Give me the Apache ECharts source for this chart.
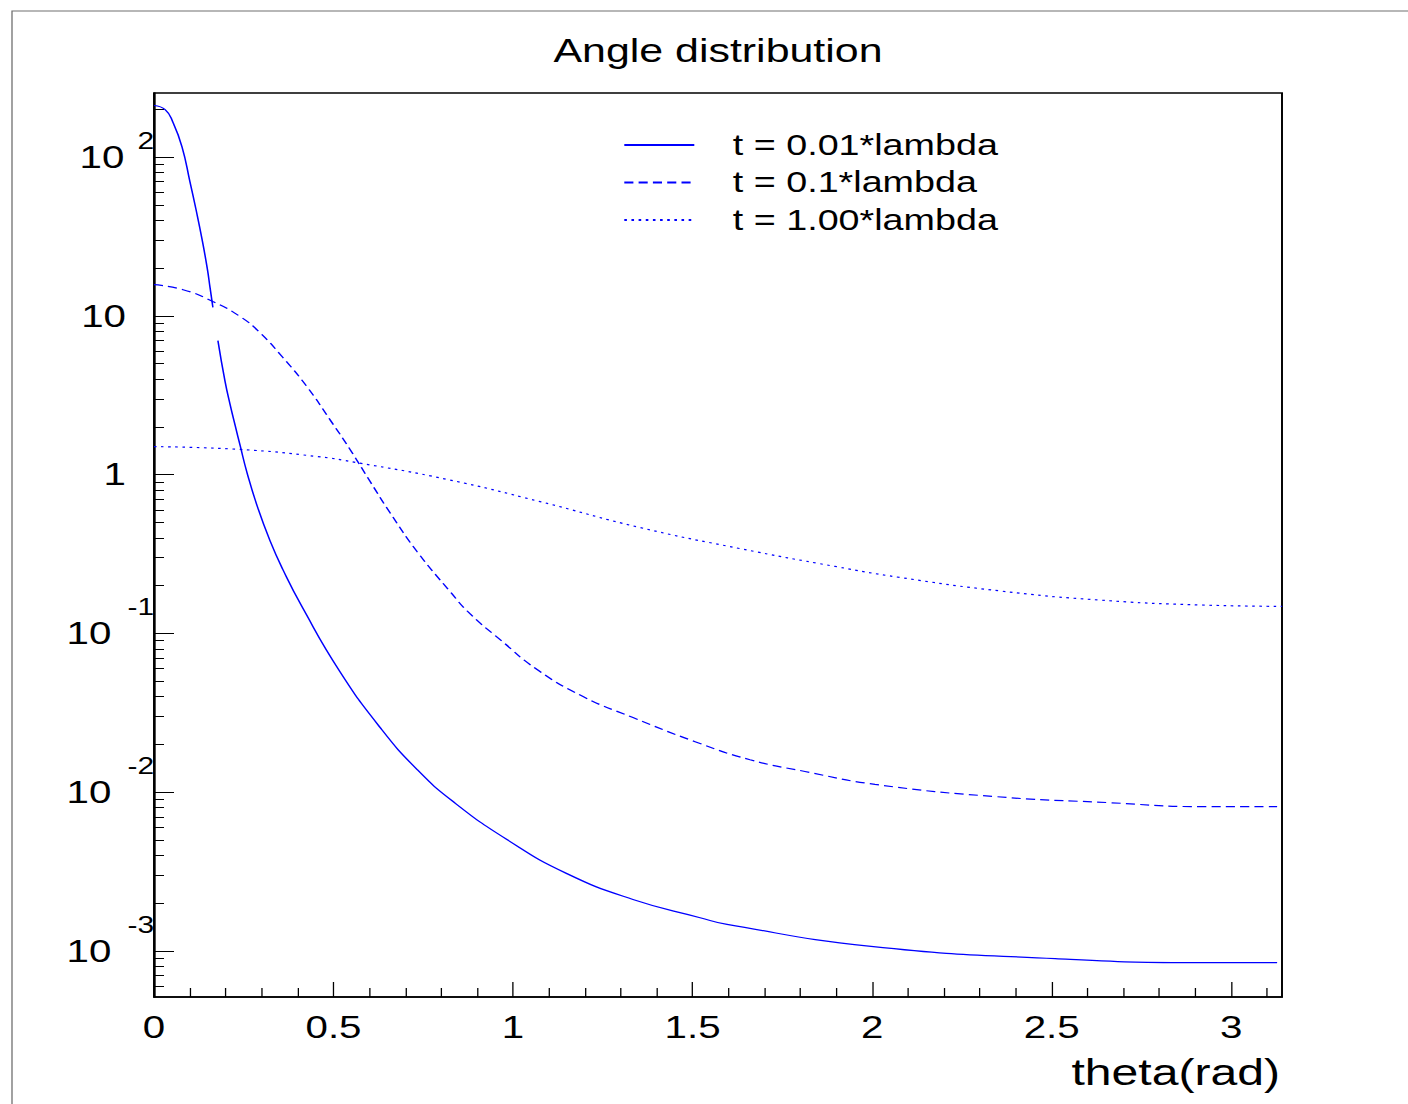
<!DOCTYPE html>
<html><head><meta charset="utf-8">
<script src="https://cdn.jsdelivr.net/npm/echarts@6/dist/echarts.min.js"></script>
<style>
html,body{margin:0;padding:0;background:#fff;overflow:hidden;}
#main{width:1083px;height:1104px;transform-origin:0 0;}
</style>
</head><body><div id="main"></div>
<script>
// ---- data (theta in rad, value on log scale) ----
const seriesNames = ['t = 0.01*lambda', 't = 0.1*lambda', 't = 1.00*lambda'];

const thetaSolid = [0, 0.031, 0.053, 0.078, 0.100, 0.117, 0.134, 0.148, 0.156, 0.164, 0.171,
  0.178, 0.198, 0.212, 0.226, 0.240, 0.259, 0.287, 0.323, 0.359, 0.412, 0.518, 0.630, 0.733,
  0.833, 0.983, 1.150, 1.334, 1.521, 1.596, 1.997, 2.510, 2.933, 3.128];
const valSolid = [211, 199, 165, 116, 70.0, 46.7, 30.2, 20.1, 15.1, 11.3, null,
  6.98, 3.85, 2.76, 2.04, 1.52, 1.03, 0.638, 0.384, 0.252, 0.1475, 0.0574, 0.0255, 0.01387,
  0.00873, 0.00503, 0.00307, 0.00211, 0.00162, 0.00147, 0.00107, 0.000895, 0.000845, 0.000845];

const thetaDashed = [0, 0.081, 0.164, 0.240, 0.295, 0.359, 0.426, 0.490, 0.546, 0.602, 0.657,
  0.733, 0.825, 0.880, 0.964, 1.067, 1.195, 1.334, 1.507, 1.660, 1.813, 2.008, 2.343, 2.660,
  2.914, 3.128];
const valDashed = [15.7, 14.6, 12.3, 9.89, 7.83, 5.46, 3.58, 2.22, 1.44, 0.904, 0.577,
  0.327, 0.183, 0.133, 0.0914, 0.0592, 0.0400, 0.0295, 0.0208, 0.0160, 0.0135, 0.0112, 0.00938, 0.00859,
  0.00811, 0.00811];

const thetaDotted = [0, 0.240, 0.454, 0.565, 0.819, 1.075, 1.354, 1.632, 1.897, 2.078, 2.357,
  2.635, 2.914, 3.142];
const valDotted = [1.50, 1.44, 1.30, 1.19, 0.930, 0.676, 0.464, 0.342, 0.264, 0.225, 0.185,
  0.162, 0.151, 0.148];

// axis ticks / ranges
const xMax = Math.PI;
const xTicks = [0, 0.5, 1, 1.5, 2, 2.5, 3];
const xMinorTicks = [0.1,0.2,0.3,0.4, 0.6,0.7,0.8,0.9, 1.1,1.2,1.3,1.4, 1.6,1.7,1.8,1.9,
  2.1,2.2,2.3,2.4, 2.6,2.7,2.8,2.9, 3.1];
const yTickExps = [-3, -2, -1, 0, 1, 2];
const yMinVal = 5.13e-4, yMaxVal = 253;

// ---- layout helpers (the reference is horizontally stretched) ----
const W = 1083, S = 1408 / W;
document.getElementById('main').style.transform = 'scaleX(' + S + ')';
const X = px => px / S;
const FONT = '"Liberation Sans", Arial, Helvetica, sans-serif';

const yMin = Math.log10(yMinVal), yMax = Math.log10(yMaxVal);
const yMinor = [];
for (let n = -4; n <= 2; n++) for (let k = 2; k <= 9; k++) {
  const v = n + Math.log10(k);
  if (v > yMin && v < yMax) yMinor.push(v);
}
const toData = (ts, vs) => ts.map((t, i) => [t, vs[i] == null ? '-' : Math.log10(vs[i])]);

const blue = '#0000ff';
const chart = echarts.init(document.getElementById('main'), null, {renderer: 'svg', width: W, height: 1104});
chart.setOption({
  animation: false,
  backgroundColor: '#fff',
  title: {
    text: 'Angle distribution', left: X(718), top: 34, padding: 0, textAlign: 'center',
    textStyle: {fontSize: 33, fontWeight: 'normal', color: '#000', fontFamily: FONT}
  },
  graphic: [{
    type: 'rect', silent: true, z: -10,
    shape: {x: X(12), y: 11, width: 2000, height: 2000},
    style: {fill: 'none', stroke: '#707070', lineWidth: 1}
  }],
  legend: {
    orient: 'vertical', left: X(623), top: 130.5, padding: 0,
    itemWidth: X(70), itemHeight: 14, itemGap: 8.5, selectedMode: false,
    data: seriesNames,
    itemStyle: {opacity: 0},
    textStyle: {fontSize: 29, lineHeight: 29, color: '#000', fontFamily: FONT, padding: [0, 0, 0, X(32)]}
  },
  grid: {
    left: X(154), right: X(126), top: 93, bottom: 107, containLabel: false,
    show: true, borderColor: '#000', borderWidth: 1.5, backgroundColor: 'transparent'
  },
  xAxis: [{
    type: 'value', min: 0, max: xMax, position: 'bottom',
    axisLine: {show: true, onZero: false, lineStyle: {color: '#000', width: 1.5}},
    axisTick: {show: true, inside: true, length: 15, customValues: xTicks, lineStyle: {color: '#000', width: 1}},
    axisLabel: {customValues: xTicks, margin: 15, fontSize: 31, color: '#000', fontFamily: FONT,
      formatter: v => String(v)},
    splitLine: {show: false},
    name: 'theta(rad)', nameLocation: 'end', nameGap: -X(2),
    nameTextStyle: {fontSize: 37, color: '#000', fontFamily: FONT, align: 'right', verticalAlign: 'top', padding: [57, 0, 0, 0]}
  }, {
    type: 'value', min: 0, max: xMax, position: 'bottom',
    axisLine: {show: false, onZero: false},
    axisTick: {show: true, inside: true, length: 9, customValues: xMinorTicks, lineStyle: {color: '#000', width: 1}},
    axisLabel: {show: false}, splitLine: {show: false}
  }],
  yAxis: [{
    type: 'value', min: yMin, max: yMax, position: 'left',
    axisLine: {show: true, onZero: false, lineStyle: {color: '#000', width: 1.5}},
    axisTick: {show: true, inside: true, length: X(20), customValues: yTickExps, lineStyle: {color: '#000', width: 1}},
    axisLabel: {
      customValues: yTickExps, margin: 0, color: '#000', fontFamily: FONT,
      formatter: v => {
        const n = Math.round(v);
        if (n === 0) return '{p|1}';
        if (n === 1) return '{p|10}';
        if (n === 2) return '{b|10}{h|' + n + '}';
        return '{b|10}{e|' + n + '}';
      },
      rich: {
        b: {fontSize: 31, color: '#000', fontFamily: FONT},
        p: {fontSize: 31, color: '#000', fontFamily: FONT, padding: [0, X(28), 0, 0]},
        e: {fontSize: 23, color: '#000', fontFamily: FONT, padding: [0, 0, 52, X(16)]},
        h: {fontSize: 23, color: '#000', fontFamily: FONT, padding: [0, 0, 32, X(13)]}
      }
    },
    splitLine: {show: false}
  }, {
    type: 'value', min: yMin, max: yMax, position: 'left',
    axisLine: {show: false, onZero: false},
    axisTick: {show: true, inside: true, length: X(10), customValues: yMinor, lineStyle: {color: '#000', width: 1}},
    axisLabel: {show: false}, splitLine: {show: false}
  }],
  series: [{
    name: seriesNames[0], type: 'line', data: toData(thetaSolid, valSolid),
    symbol: 'none', showSymbol: false, smooth: 0.5, connectNulls: false,
    lineStyle: {color: blue, width: 1.2, type: 'solid'}, itemStyle: {color: blue}
  }, {
    name: seriesNames[1], type: 'line', data: toData(thetaDashed, valDashed),
    symbol: 'none', showSymbol: false, smooth: 0.5,
    lineStyle: {color: blue, width: 1.2, type: [7, 4]}, itemStyle: {color: blue}
  }, {
    name: seriesNames[2], type: 'line', data: toData(thetaDotted, valDotted),
    symbol: 'none', showSymbol: false, smooth: 0.5,
    lineStyle: {color: blue, width: 1.2, type: [2, 3.5]}, itemStyle: {color: blue}
  }]
});
</script>
</body></html>
